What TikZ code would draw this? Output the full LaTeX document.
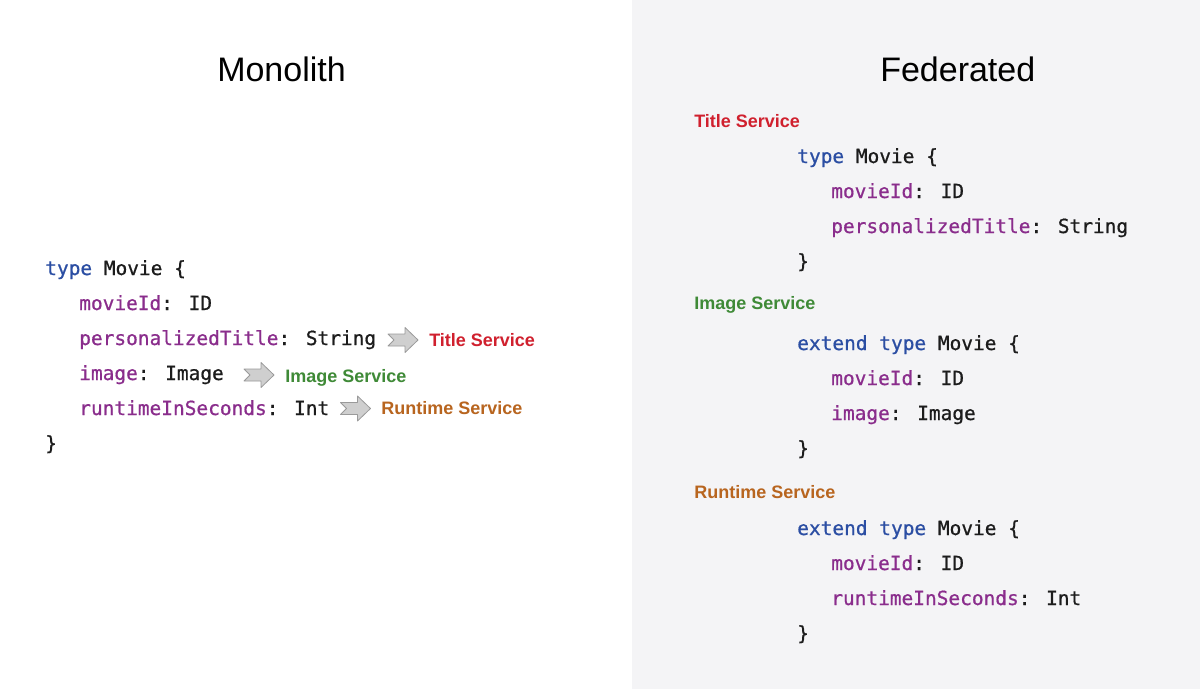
\documentclass[tikz,border=0pt]{standalone}
\usepackage{fontspec}
\setmainfont{Liberation Sans}
\newfontfamily\codefont[FakeBold=0.8]{DejaVu Sans Mono}
\newfontfamily\labelfont{Liberation Sans}
\definecolor{kwblue}{HTML}{2B4EA3}
\definecolor{fieldpurple}{HTML}{8A2D8C}
\definecolor{codeblack}{HTML}{1C1C1C}
\definecolor{titlered}{HTML}{D0202E}
\definecolor{imagegreen}{HTML}{3F8A37}
\definecolor{runtimeorange}{HTML}{B8651F}
\definecolor{panelgray}{HTML}{F4F4F6}
\definecolor{arrowfill}{HTML}{CFCFCF}
\definecolor{arrowline}{HTML}{9A9A9A}
\newcommand{\kw}[1]{\textcolor{kwblue}{#1}}
\newcommand{\fld}[1]{\textcolor{fieldpurple}{#1}}
\tikzset{
  code/.style={anchor=base west, inner sep=0pt, font=\codefont\fontsize{14.6}{17}\selectfont, text=codeblack},
  heading/.style={anchor=base west, inner sep=0pt, font=\fontsize{25.5}{30}\selectfont, text=black},
  svclabel/.style={anchor=base west, inner sep=0pt, font=\labelfont\bfseries\fontsize{13.5}{16}\selectfont},
  svcarrow/.pic={
    \draw[fill=arrowfill, draw=arrowline, line width=0.6pt, line join=round]
      (-15,-6) -- (2,-6) -- (2,-12.5) -- (15,0) -- (2,12.5) -- (2,6) -- (-15,6) -- (-9,0) -- cycle;
  }
}
\begin{document}
\begin{tikzpicture}[x=0.75pt,y=-0.75pt]
\path[use as bounding box, fill=white] (0,0) rectangle (1200,689);
\fill[panelgray] (632,0) rectangle (1200,689);

% headings
\node[heading] (mono) at (217,81) {Monolith};
\node[heading] (fed) at (880,81) {Federated};

% monolith code
\node[code] (m1) at (45,275) {\kw{type} Movie \{};
\node[code] (m2) at (79,310) {\fld{movieId}: ID};
\node[code] (m3) at (79,345) {\fld{personalizedTitle}: String};
\node[code] (m4) at (79,380) {\fld{image}: Image};
\node[code] (m5) at (79,415) {\fld{runtimeInSeconds}: Int};
\node[code] (m6) at (45,450) {\}};

% arrows to services
\pic at (403,340) {svcarrow};
\pic at (259,375) {svcarrow};
\pic at (355.5,408.5) {svcarrow};

\node[svclabel, text=titlered] (mt) at (429,346.5) {Title Service};
\node[svclabel, text=imagegreen] (mi) at (285,382) {Image Service};
\node[svclabel, text=runtimeorange] (mr) at (381,414.5) {Runtime Service};

% federated: title service
\node[svclabel, text=titlered] (ft) at (694,127.5) {Title Service};
\node[code] (t1) at (797,163) {\kw{type} Movie \{};
\node[code] (t2) at (831,198) {\fld{movieId}: ID};
\node[code] (t3) at (831,233) {\fld{personalizedTitle}: String};
\node[code] (t4) at (797,268) {\}};

% federated: image service
\node[svclabel, text=imagegreen] (fi) at (694,309.5) {Image Service};
\node[code] (i1) at (797,350) {\kw{extend} \kw{type} Movie \{};
\node[code] (i2) at (831,385) {\fld{movieId}: ID};
\node[code] (i3) at (831,420) {\fld{image}: Image};
\node[code] (i4) at (797,455) {\}};

% federated: runtime service
\node[svclabel, text=runtimeorange] (fr) at (694,498.5) {Runtime Service};
\node[code] (r1) at (797,535) {\kw{extend} \kw{type} Movie \{};
\node[code] (r2) at (831,570) {\fld{movieId}: ID};
\node[code] (r3) at (831,605) {\fld{runtimeInSeconds}: Int};
\node[code] (r4) at (797,640) {\}};
\end{tikzpicture}
\end{document}
